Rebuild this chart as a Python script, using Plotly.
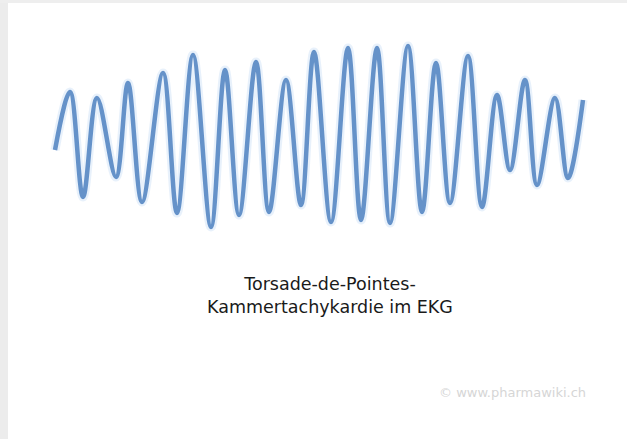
import plotly.graph_objects as go

# ECG trace: turning points (time, amplitude)
time_pts = [55, 70, 83, 97, 116, 128, 142, 163, 177, 193, 211, 225, 239, 256, 269,
            286, 301, 314, 331, 348, 361, 377, 390, 408, 422, 436, 450, 468, 482,
            497, 510, 525, 537, 555, 568, 583]
ecg_pts = [150, 92, 197, 98, 177, 83, 202, 73, 213, 55, 227, 70, 215, 62, 212,
           80, 205, 52, 222, 48, 220, 48, 223, 46, 212, 63, 203, 56, 207,
           95, 170, 80, 185, 98, 178, 100]

caption_lines = ["Torsade-de-Pointes-", "Kammertachykardie im EKG"]
watermark = "© www.pharmawiki.ch"

fig = go.Figure()
# soft glow under the trace
fig.add_trace(go.Scatter(x=time_pts, y=ecg_pts, mode="lines",
                         line=dict(shape="spline", smoothing=1.0, width=9,
                                   color="rgba(150,190,235,0.22)"),
                         hoverinfo="skip", showlegend=False))
fig.add_trace(go.Scatter(x=time_pts, y=ecg_pts, mode="lines",
                         line=dict(shape="spline", smoothing=1.0, width=4.5,
                                   color="#6592c9"),
                         showlegend=False))

fig.add_annotation(x=330, y=295, xref="x", yref="y",
                   text="<br>".join(caption_lines), showarrow=False,
                   font=dict(family="DejaVu Sans", size=17.5, color="#1a1a1a"),
                   align="center")
fig.add_annotation(x=512, y=392, xref="x", yref="y", text=watermark,
                   showarrow=False,
                   font=dict(family="DejaVu Sans", size=13, color="#d6d6d6"))

# paper edge strips
fig.add_shape(type="rect", xref="paper", yref="paper", x0=0, x1=8/627, y0=0, y1=1,
              fillcolor="#ececec", line_width=0, layer="below")
fig.add_shape(type="rect", xref="paper", yref="paper", x0=0, x1=1, y0=1-3/439, y1=1,
              fillcolor="#eeeeee", line_width=0, layer="below")

fig.update_layout(width=627, height=439, margin=dict(l=0, r=0, t=0, b=0),
                  paper_bgcolor="white", plot_bgcolor="white")
fig.update_xaxes(range=[0, 627], visible=False)
fig.update_yaxes(range=[439, 0], visible=False)
fig.write_html("out.html", config={"displayModeBar": False},
               post_script="document.body.style.margin='0';document.body.style.overflow='hidden';")
